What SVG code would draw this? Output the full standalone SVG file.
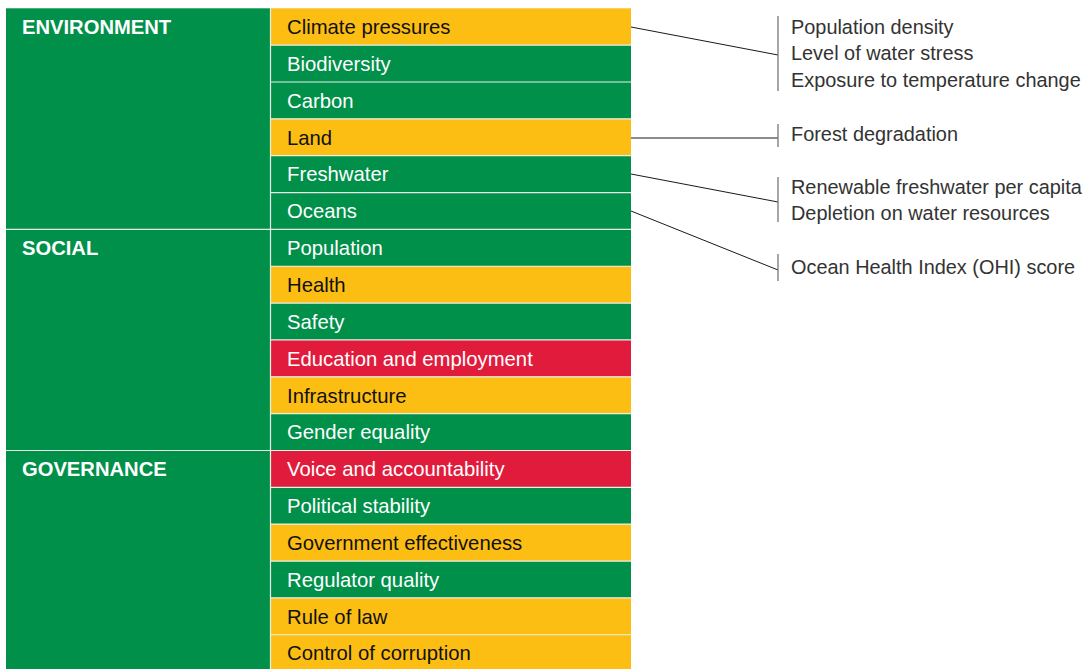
<svg xmlns="http://www.w3.org/2000/svg" width="1083" height="669" viewBox="0 0 1083 669">
<style>
.g{fill:#00904A}.y{fill:#FDBE13}.r{fill:#E11B3C}
.t{font-family:"Liberation Sans",Arial,sans-serif;font-size:20.3px}
.w{fill:#ffffff}.k{fill:#111111}
.h{font-family:"Liberation Sans",Arial,sans-serif;font-size:20.2px;font-weight:bold;fill:#ffffff}
.a{font-family:"Liberation Sans",Arial,sans-serif;font-size:19.9px;fill:#333333}
.sep{stroke:#e8efe6;stroke-width:1.2}
.con{stroke:#1a1a1a;stroke-width:1;fill:none}
.br{stroke:#777777;stroke-width:1.3;fill:none}
</style>
<rect width="1083" height="669" fill="#ffffff"/>
<g id="sections">
<g id="env"><rect class="g" x="6" y="8.3" width="264.5" height="221.1"/><text class="h" x="22" y="33.8">ENVIRONMENT</text></g>
<g id="soc"><rect class="g" x="6" y="229.4" width="264.5" height="221.1"/><text class="h" x="22" y="254.9">SOCIAL</text></g>
<g id="gov"><rect class="g" x="6" y="450.5" width="264.5" height="221.1"/><text class="h" x="22" y="476">GOVERNANCE</text></g>
</g>
<g id="rows">
<g id="r0"><rect class="y" x="270.5" y="8.3" width="360.5" height="36.85"/><text class="t k" x="287" y="34">Climate pressures</text></g>
<g id="r1"><rect class="g" x="270.5" y="45.15" width="360.5" height="36.85"/><text class="t w" x="287" y="70.85">Biodiversity</text></g>
<g id="r2"><rect class="g" x="270.5" y="82" width="360.5" height="36.85"/><text class="t w" x="287" y="107.7">Carbon</text></g>
<g id="r3"><rect class="y" x="270.5" y="118.85" width="360.5" height="36.85"/><text class="t k" x="287" y="144.55">Land</text></g>
<g id="r4"><rect class="g" x="270.5" y="155.7" width="360.5" height="36.85"/><text class="t w" x="287" y="181.4">Freshwater</text></g>
<g id="r5"><rect class="g" x="270.5" y="192.55" width="360.5" height="36.85"/><text class="t w" x="287" y="218.25">Oceans</text></g>
<g id="r6"><rect class="g" x="270.5" y="229.4" width="360.5" height="36.85"/><text class="t w" x="287" y="255.1">Population</text></g>
<g id="r7"><rect class="y" x="270.5" y="266.25" width="360.5" height="36.85"/><text class="t k" x="287" y="291.95">Health</text></g>
<g id="r8"><rect class="g" x="270.5" y="303.1" width="360.5" height="36.85"/><text class="t w" x="287" y="328.8">Safety</text></g>
<g id="r9"><rect class="r" x="270.5" y="339.95" width="360.5" height="36.85"/><text class="t w" x="287" y="365.65">Education and employment</text></g>
<g id="r10"><rect class="y" x="270.5" y="376.8" width="360.5" height="36.85"/><text class="t k" x="287" y="402.5">Infrastructure</text></g>
<g id="r11"><rect class="g" x="270.5" y="413.65" width="360.5" height="36.85"/><text class="t w" x="287" y="439.35">Gender equality</text></g>
<g id="r12"><rect class="r" x="270.5" y="450.5" width="360.5" height="36.85"/><text class="t w" x="287" y="476.2">Voice and accountability</text></g>
<g id="r13"><rect class="g" x="270.5" y="487.35" width="360.5" height="36.85"/><text class="t w" x="287" y="513.05">Political stability</text></g>
<g id="r14"><rect class="y" x="270.5" y="524.2" width="360.5" height="36.85"/><text class="t k" x="287" y="549.9">Government effectiveness</text></g>
<g id="r15"><rect class="g" x="270.5" y="561.05" width="360.5" height="36.85"/><text class="t w" x="287" y="586.75">Regulator quality</text></g>
<g id="r16"><rect class="y" x="270.5" y="597.9" width="360.5" height="36.85"/><text class="t k" x="287" y="623.6">Rule of law</text></g>
<g id="r17"><rect class="y" x="270.5" y="634.75" width="360.5" height="36.85"/><text class="t k" x="287" y="660.45">Control of corruption</text></g>
</g>
<g id="separators">
<line class="sep" x1="270.5" y1="8.3" x2="270.5" y2="669"/>
<line class="sep" x1="6" y1="229.4" x2="270.5" y2="229.4"/>
<line class="sep" x1="6" y1="450.5" x2="270.5" y2="450.5"/>
<path class="sep" d="M270.5 45.15H631M270.5 82H631M270.5 118.85H631M270.5 155.7H631M270.5 192.55H631M270.5 229.4H631M270.5 266.25H631M270.5 303.1H631M270.5 339.95H631M270.5 376.8H631M270.5 413.65H631M270.5 450.5H631M270.5 487.35H631M270.5 524.2H631M270.5 561.05H631M270.5 597.9H631M270.5 634.75H631"/>
</g>
<g id="connectors">
<line class="con" x1="631" y1="27" x2="778" y2="55"/>
<line class="con" x1="631" y1="138" x2="778" y2="138"/>
<line class="con" x1="631" y1="174" x2="778" y2="202"/>
<line class="con" x1="631" y1="211" x2="778" y2="270"/>
<line class="br" x1="778" y1="16" x2="778" y2="91"/>
<line class="br" x1="778" y1="124" x2="778" y2="147"/>
<line class="br" x1="778" y1="177" x2="778" y2="222"/>
<line class="br" x1="778" y1="254" x2="778" y2="281"/>
</g>
<g id="notes">
<g id="n-climate"><text class="a" x="791" y="33.8">Population density</text><text class="a" x="791" y="60.3">Level of water stress</text><text class="a" x="791" y="86.8">Exposure to temperature change</text></g>
<g id="n-land"><text class="a" x="791" y="140.8">Forest degradation</text></g>
<g id="n-fresh"><text class="a" x="791" y="193.8">Renewable freshwater per capita</text><text class="a" x="791" y="220.3">Depletion on water resources</text></g>
<g id="n-ocean"><text class="a" x="791" y="273.8">Ocean Health Index (OHI) score</text></g>
</g>
</svg>
